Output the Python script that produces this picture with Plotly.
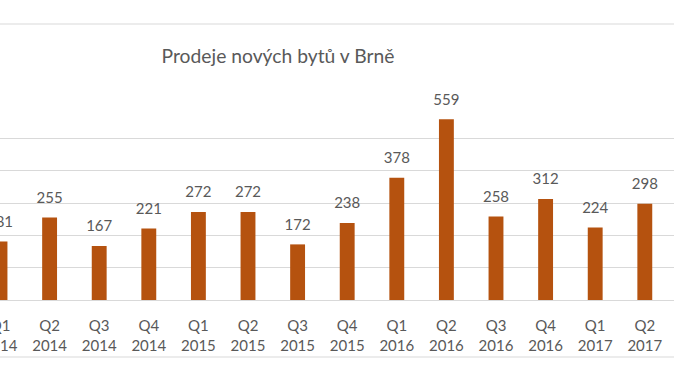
import plotly.graph_objects as go

quarters = ["Q1", "Q2", "Q3", "Q4", "Q1", "Q2", "Q3", "Q4", "Q1", "Q2", "Q3", "Q4", "Q1", "Q2"]
years = ["2014", "2014", "2014", "2014", "2015", "2015", "2015", "2015",
         "2016", "2016", "2016", "2016", "2017", "2017"]
sales = [181, 255, 167, 221, 272, 272, 172, 238, 378, 559, 258, 312, 224, 298]
title_text = "Prodeje nových bytů v Brně"

idx = list(range(len(sales)))
labels = [f"{q}<br>{y}" for q, y in zip(quarters, years)]

BAR = "#B5520F"
TXT = "#595959"
GRID = "#D9D9D9"
FONT = "Lato"
STEP = 49.6  # px per category

fig = go.Figure()
fig.add_trace(go.Bar(
    x=idx, y=sales, width=0.3, marker=dict(color=BAR, line=dict(width=0)),
    hoverinfo="skip", showlegend=False,
))
fig.add_trace(go.Scatter(
    x=idx, y=sales, mode="markers+text", text=[str(v) for v in sales],
    textposition="top center", cliponaxis=False,
    marker=dict(size=16, opacity=0), textfont=dict(family=FONT, size=15, color=TXT),
    hoverinfo="skip", showlegend=False,
))

fig.update_layout(
    width=674, height=380,
    margin=dict(l=0, r=0, t=106, b=80, autoexpand=False),
    paper_bgcolor="white", plot_bgcolor="white",
    title=dict(text=title_text, x=0.4125, xanchor="center", y=1 - 56 / 380, yanchor="middle",
               font=dict(family=FONT, size=19.3, color=TXT), automargin=False),
    xaxis=dict(range=[0, 674 / STEP], tickmode="array",
               tickvals=idx, ticktext=labels,
               ticklabeloverflow="allow", automargin=False,
               ticklabelstandoff=15,
               showgrid=False, zeroline=False, showline=False, ticks="",
               tickfont=dict(family=FONT, size=15, color=TXT)),
    yaxis=dict(range=[0, 600], dtick=100, showgrid=True, gridcolor=GRID, gridwidth=1,
               zeroline=True, zerolinecolor=GRID, zerolinewidth=1, automargin=False,
               showticklabels=False, ticks=""),
    shapes=[
        dict(type="line", xref="paper", yref="paper", x0=0, x1=1,
             y0=(300 - 24) / 194, y1=(300 - 24) / 194, line=dict(color=GRID, width=1)),
        dict(type="line", xref="paper", yref="paper", x0=0, x1=1,
             y0=(300 - 357) / 194, y1=(300 - 357) / 194, line=dict(color=GRID, width=1)),
    ],
)

fig.write_html(
    "out.html",
    config={"displayModeBar": False},
    post_script="document.body.style.margin='0';document.body.style.overflow='hidden';",
)
